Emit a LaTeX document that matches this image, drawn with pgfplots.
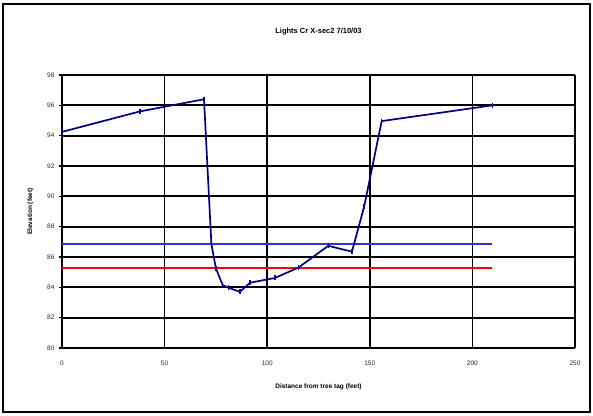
\documentclass[border=0pt]{standalone}
\usepackage{pgfplots}
\pgfplotsset{compat=1.18}
\usepackage{fontspec}
\setmainfont{Liberation Sans}
\definecolor{navy}{RGB}{0,0,128}
\definecolor{lblue}{RGB}{51,51,204}
\begin{document}
\begin{tikzpicture}[x=1pt,y=1pt]
\path[use as bounding box] (-62,-67) rectangle (531,348);
\draw[line width=1.5pt] (-59,-64) rectangle (528,344);
\begin{axis}[
  at={(0,0)}, anchor=south west,
  scale only axis, width=513pt, height=273pt,
  xmin=0, xmax=250, ymin=80, ymax=98,
  xtick={0,50,...,250}, ytick={80,82,...,98},
  grid=major, major grid style={black, line width=1.7pt},
  axis line style={black, line width=1.7pt},
  axis x line=bottom, axis y line=left,
  x axis line style={-}, y axis line style={-},
  tick style={black, line width=1.2pt},
  major tick length=3pt,
  xtick style={draw=none},
  tick align=outside,
  ticklabel style={font=\fontsize{6.5}{8}\selectfont, text=black!85},
  /pgf/number format/assume math mode=true,
  xticklabel style={yshift=-6pt},
  yticklabel style={xshift=-1pt},
  title={\bfseries Lights Cr X-sec2 7/10/03},
  title style={font=\fontsize{7.5}{9}\selectfont, yshift=30pt},
  xlabel={\bfseries Distance from tree tag (feet)},
  xlabel style={font=\fontsize{6.5}{8}\selectfont, yshift=-12pt},
  ylabel={\bfseries Elevation (feet)},
  ylabel style={font=\fontsize{6.5}{8}\selectfont, yshift=7pt},
  clip=false,
]
\addplot[lblue, line width=1.6pt] coordinates {(0,86.86) (209.7,86.86)};
\addplot[red, line width=1.6pt] coordinates {(0,85.27) (209.7,85.27)};
\addplot[navy, line width=1.7pt, mark=|, mark size=2.5pt, mark options={line width=1.2pt}] coordinates {
(0,94.25) (38.0,95.6) (69.2,96.4) (72.8,86.86) (75.0,85.25) (78.3,84.15) (81.0,83.98) (86.7,83.7) (91.6,84.3) (103.8,84.62) (115.2,85.3) (129.8,86.74) (141.3,86.35) (147.2,89.3) (155.8,94.96) (209.7,96.0)
};
\end{axis}
\end{tikzpicture}
\end{document}
